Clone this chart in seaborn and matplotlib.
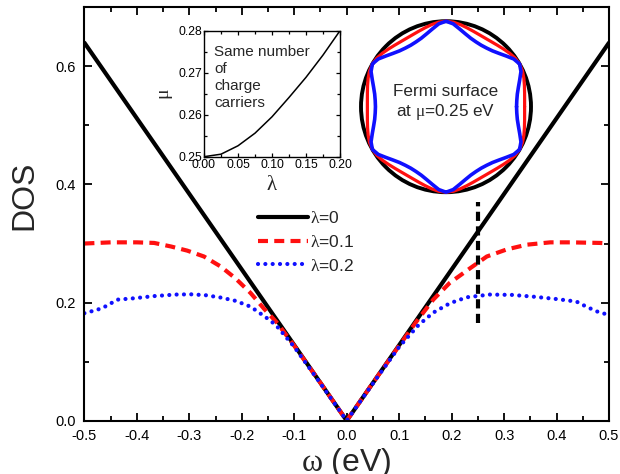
import numpy as np
import pandas as pd
import matplotlib
matplotlib.use("Agg")
import matplotlib.pyplot as plt
import seaborn as sns
from matplotlib.patches import Ellipse
from matplotlib.ticker import MultipleLocator

# ---------------- data ----------------
omega_black = [-0.5, 0.0, 0.5]
dos_black = [0.64, 0.0, 0.64]

omega_red = [-0.5, -0.45, -0.4, -0.367, -0.335, -0.304, -0.272, -0.24, -0.212, -0.183,
             -0.158, -0.133, -0.1, -0.05, 0.0, 0.05, 0.1, 0.133, 0.165, 0.196,
             0.235, 0.267, 0.305, 0.343, 0.388, 0.426, 0.483, 0.5]
dos_red = [0.300, 0.302, 0.302, 0.301, 0.295, 0.288, 0.278, 0.261, 0.241, 0.216,
           0.190, 0.166, 0.127, 0.064, 0.0, 0.064, 0.127, 0.168, 0.205, 0.233,
           0.258, 0.278, 0.290, 0.298, 0.302, 0.302, 0.301, 0.300]

omega_blue = [-0.5, -0.475, -0.463, -0.437, -0.409, -0.367, -0.326, -0.297, -0.269, -0.24,
              -0.212, -0.183, -0.154, -0.135, -0.1, -0.05, 0.0, 0.05, 0.1, 0.137,
              0.165, 0.197, 0.229, 0.273, 0.315, 0.356, 0.4, 0.438, 0.457, 0.477,
              0.492, 0.5]
dos_blue = [0.182, 0.188, 0.192, 0.205, 0.207, 0.211, 0.2136, 0.214, 0.2125, 0.2085,
            0.203, 0.193, 0.175, 0.162, 0.125, 0.063, 0.0, 0.063, 0.125, 0.162,
            0.183, 0.199, 0.209, 0.2136, 0.213, 0.210, 0.206, 0.2017, 0.193, 0.185,
            0.181, 0.180]

marker_omega = [0.25, 0.25]
marker_dos = [0.165, 0.371]

legend_labels = [r"$\mathrm{\lambda}$=0", r"$\mathrm{\lambda}$=0.1", r"$\mathrm{\lambda}$=0.2"]

# inset: chemical potential vs lambda
inset_lambda = [0.0, 0.025, 0.05, 0.075, 0.1, 0.125, 0.15, 0.175, 0.2]
inset_mu = [0.25, 0.2506, 0.2526, 0.2556, 0.2595, 0.2641, 0.2689, 0.2742, 0.28]

# Fermi surface: radius (relative to circle) vs angle from a flat-side direction (deg)
fs_angle = [0, 5, 10, 15, 20, 25, 30]
fs_r_red = [0.925, 0.9285, 0.939, 0.955, 0.975, 0.993, 1.0]
fs_r_blue = [0.83, 0.836, 0.852, 0.882, 0.923, 0.973, 1.0]

# ---------------- style ----------------
sns.set_style("ticks")
plt.rcParams["font.family"] = ["Liberation Sans", "DejaVu Sans"]
plt.rcParams["mathtext.fontset"] = "custom"
plt.rcParams["mathtext.rm"] = "Liberation Serif"
plt.rcParams["mathtext.it"] = "Liberation Serif:italic"
plt.rcParams["axes.linewidth"] = 1.5

W, H = 620, 474
fig = plt.figure(figsize=(6.2, 4.74), dpi=100)


def px_axes(x0, y0, x1, y1, **kw):
    return fig.add_axes([x0 / W, 1 - y1 / H, (x1 - x0) / W, (y1 - y0) / H], **kw)


ax = px_axes(84.4, 7.3, 609, 420.7)

sns.lineplot(x=omega_black, y=dos_black, ax=ax, color="black", lw=3.0,
             sort=False, estimator=None, label=legend_labels[0])
sns.lineplot(x=omega_red, y=dos_red, ax=ax, color="#ff1010", lw=3.0,
             linestyle=(0, (2.4, 1.5)), sort=False, estimator=None, label=legend_labels[1])
sns.lineplot(x=omega_blue, y=dos_blue, ax=ax, color="#1010ff", lw=3.0,
             linestyle=(0, (0.01, 1.75)), dash_capstyle="round",
             sort=False, estimator=None, label=legend_labels[2])
sns.lineplot(x=marker_omega, y=marker_dos, ax=ax, color="black", lw=3.0,
             linestyle=(0, (2.2, 1.3)), sort=False, estimator=None)

ax.set_xlim(-0.5, 0.5)
ax.set_ylim(0, 0.7)
ax.xaxis.set_major_locator(MultipleLocator(0.1))
ax.xaxis.set_minor_locator(MultipleLocator(0.05))
ax.yaxis.set_major_locator(MultipleLocator(0.2))
ax.yaxis.set_minor_locator(MultipleLocator(0.1))
ax.xaxis.set_major_formatter(matplotlib.ticker.FuncFormatter(lambda v, p: f"{v:.1f}"))
ax.yaxis.set_major_formatter(matplotlib.ticker.FuncFormatter(lambda v, p: f"{v:.1f}"))
ax.tick_params(which="both", direction="in", top=True, right=True, width=1.3,
               labelsize=10.5, colors="black")
ax.tick_params(which="major", length=5.5)
ax.tick_params(which="minor", length=3.5)
ax.tick_params(axis="x", pad=6)
ax.tick_params(axis="y", pad=6)
for s in ax.spines.values():
    s.set_visible(True)
    s.set_color("black")

ax.set_xlabel(r"$\mathrm{\omega}$ (eV)", fontsize=23)
ax.set_ylabel("DOS", fontsize=23)
ax.xaxis.set_label_coords(0.5, -0.06)
ax.yaxis.set_label_coords(-0.085, 0.545)

handles, labels = ax.get_legend_handles_labels()
ax.legend(handles[:3], labels[:3], loc="center left",
          bbox_to_anchor=(258 / W, 1 - 241.7 / H), bbox_transform=fig.transFigure,
          frameon=False, borderpad=0, borderaxespad=0, handlelength=2.87,
          handletextpad=0.15, labelspacing=0.45, fontsize=12.5)

# ---------------- inset: mu vs lambda ----------------
axi = px_axes(204, 30.7, 340, 156.7)
sns.lineplot(x=inset_lambda, y=inset_mu, ax=axi, color="black", lw=1.1,
             sort=False, estimator=None)
axi.set_xlim(0, 0.2)
axi.set_ylim(0.25, 0.28)
axi.xaxis.set_major_locator(MultipleLocator(0.05))
axi.xaxis.set_minor_locator(MultipleLocator(0.025))
axi.yaxis.set_major_locator(MultipleLocator(0.01))
axi.yaxis.set_minor_locator(MultipleLocator(0.005))
axi.xaxis.set_major_formatter(matplotlib.ticker.FuncFormatter(lambda v, p: f"{v:.2f}"))
axi.yaxis.set_major_formatter(matplotlib.ticker.FuncFormatter(lambda v, p: f"{v:.2f}"))
axi.tick_params(which="both", direction="in", top=True, right=True, width=0.9,
                labelsize=8.8, pad=1.5, colors="black")
axi.tick_params(which="major", length=3)
axi.tick_params(which="minor", length=2)
for s in axi.spines.values():
    s.set_visible(True)
    s.set_linewidth(1.0)
    s.set_color("black")
axi.set_xlabel(r"$\mathrm{\lambda}$", fontsize=15, labelpad=3)
axi.set_ylabel(r"$\mathrm{\mu}$", fontsize=14, labelpad=2)
axi.text(214 / W, 1 - 77.5 / H, "Same number\nof\ncharge\ncarriers",
         transform=fig.transFigure, ha="left", va="center", fontsize=11,
         linespacing=1.27)

# ---------------- inset: Fermi surface ----------------
axf = px_axes(446 - 85 * 1.12, 106.7 - 85.5 * 1.12, 446 + 85 * 1.12, 106.7 + 85.5 * 1.12)
axf.set_xlim(-1.12, 1.12)
axf.set_ylim(-1.12, 1.12)
axf.axis("off")
axf.patch.set_alpha(0)

axf.add_patch(Ellipse((0, 0), 2, 2, fill=False, ec="black", lw=2.8))

table_angle = np.array(fs_angle, dtype=float)
full_theta = np.arange(0, 361, 5, dtype=float)
offset = np.abs(((full_theta + 30) % 60) - 30)
for radii, col, lw in [(fs_r_red, "#ff1010", 2.3), (fs_r_blue, "#1010ff", 2.6)]:
    r = np.array([radii[list(table_angle).index(o)] for o in offset])
    t = np.deg2rad(full_theta)
    sns.lineplot(x=r * np.cos(t), y=r * np.sin(t), ax=axf, color=col, lw=lw,
                 sort=False, estimator=None)

axf.text(0.5, 0.5 + 0.02, "Fermi surface\nat $\\mathrm{\\mu}$=0.25 eV",
         transform=axf.transAxes, ha="center", va="center", fontsize=12.3,
         linespacing=1.25)

fig.savefig("out.png", dpi=100)
